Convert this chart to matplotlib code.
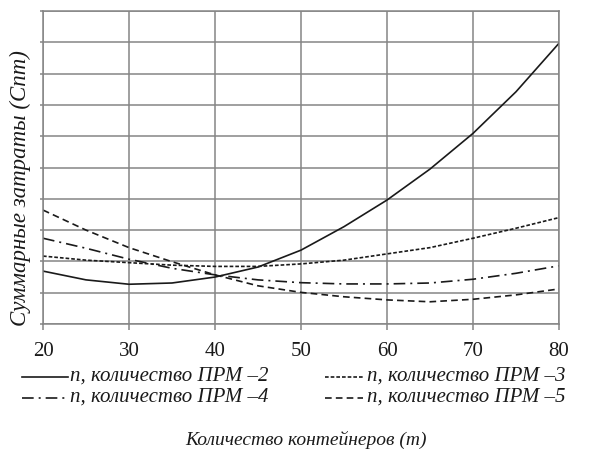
import matplotlib
matplotlib.use("Agg")
import matplotlib.pyplot as plt
from matplotlib.lines import Line2D

# data (y in grid units, 0 = bottom, 10 = top)
m_values = [20, 25, 30, 35, 40, 45, 50, 55, 60, 65, 70, 75, 80]
cost_prm2 = [1.69, 1.41, 1.27, 1.31, 1.50, 1.82, 2.36, 3.11, 3.96, 4.95, 6.09, 7.42, 8.97]
cost_prm3 = [2.17, 2.04, 1.96, 1.88, 1.84, 1.84, 1.92, 2.04, 2.24, 2.44, 2.74, 3.06, 3.40]
cost_prm4 = [2.74, 2.42, 2.07, 1.78, 1.57, 1.41, 1.32, 1.28, 1.28, 1.31, 1.43, 1.62, 1.86]
cost_prm5 = [3.64, 3.00, 2.44, 1.99, 1.57, 1.22, 1.01, 0.87, 0.77, 0.71, 0.79, 0.93, 1.12]
labels = ["п, количество ПРМ –2", "п, количество ПРМ –3",
          "п, количество ПРМ –4", "п, количество ПРМ –5"]
xticks = [20, 30, 40, 50, 60, 70, 80]

SERIF = ["Liberation Serif", "DejaVu Serif"]
GRID = "#858585"
INK = "#1a1a1a"
styles = ["-", (0, (2.2, 1.2)), (0, (7, 3, 1.2, 3)), (0, (4, 2.5))]

W, H = 592, 458
fig = plt.figure(figsize=(W / 100, H / 100), dpi=100)
ax = fig.add_axes([43 / W, 1 - 324 / H, (559 - 43) / W, (324 - 11) / H])

for ys, ls in zip([cost_prm2, cost_prm3, cost_prm4, cost_prm5], styles):
    ax.plot(m_values, ys, color=INK, lw=1.2, ls=ls)

ax.set_xlim(20, 80)
ax.set_ylim(0, 10)
ax.set_xticks(xticks)
ax.set_yticks(range(0, 11))
ax.set_yticklabels([])
ax.grid(True, color=GRID, lw=1.1)
ax.set_axisbelow(True)
for s in ax.spines.values():
    s.set_color(GRID)
    s.set_linewidth(1.1)
ax.tick_params(axis="x", length=4, width=1.1, color=GRID, pad=9,
               labelsize=15, labelcolor=INK)
ax.tick_params(axis="y", length=2, width=1.1, color=GRID)
for t in ax.get_xticklabels():
    t.set_fontfamily(SERIF)

# legend, laid out by hand in figure pixels (two rows, two columns)
def px(x, y):
    return x / W, 1 - y / H

legend_pos = [(22, 68, 70, 377), (325, 363, 367, 377),
              (22, 68, 70, 398), (325, 363, 367, 398)]
for (x0, x1, xt, yl), ls, lab in zip(legend_pos, styles, labels):
    (fx0, fy), (fx1, _) = px(x0, yl), px(x1, yl)
    fig.add_artist(Line2D([fx0, fx1], [fy, fy], color=INK, lw=1.2, ls=ls,
                          transform=fig.transFigure))
    fig.text(*px(xt, yl + 4), lab, ha="left", va="baseline", fontsize=15,
             style="italic", family=SERIF, color=INK)

fig.text(*px(306, 440), "Количество контейнеров (m)", ha="center",
         va="center", fontsize=14, style="italic", family=SERIF, color=INK)
fig.text(*px(20, 188), "Суммарные затраты (Cnm)", ha="center",
         va="center", rotation=90, fontsize=16.5, style="italic", family=SERIF,
         color=INK)

fig.savefig("out.png", dpi=100, facecolor="white")
